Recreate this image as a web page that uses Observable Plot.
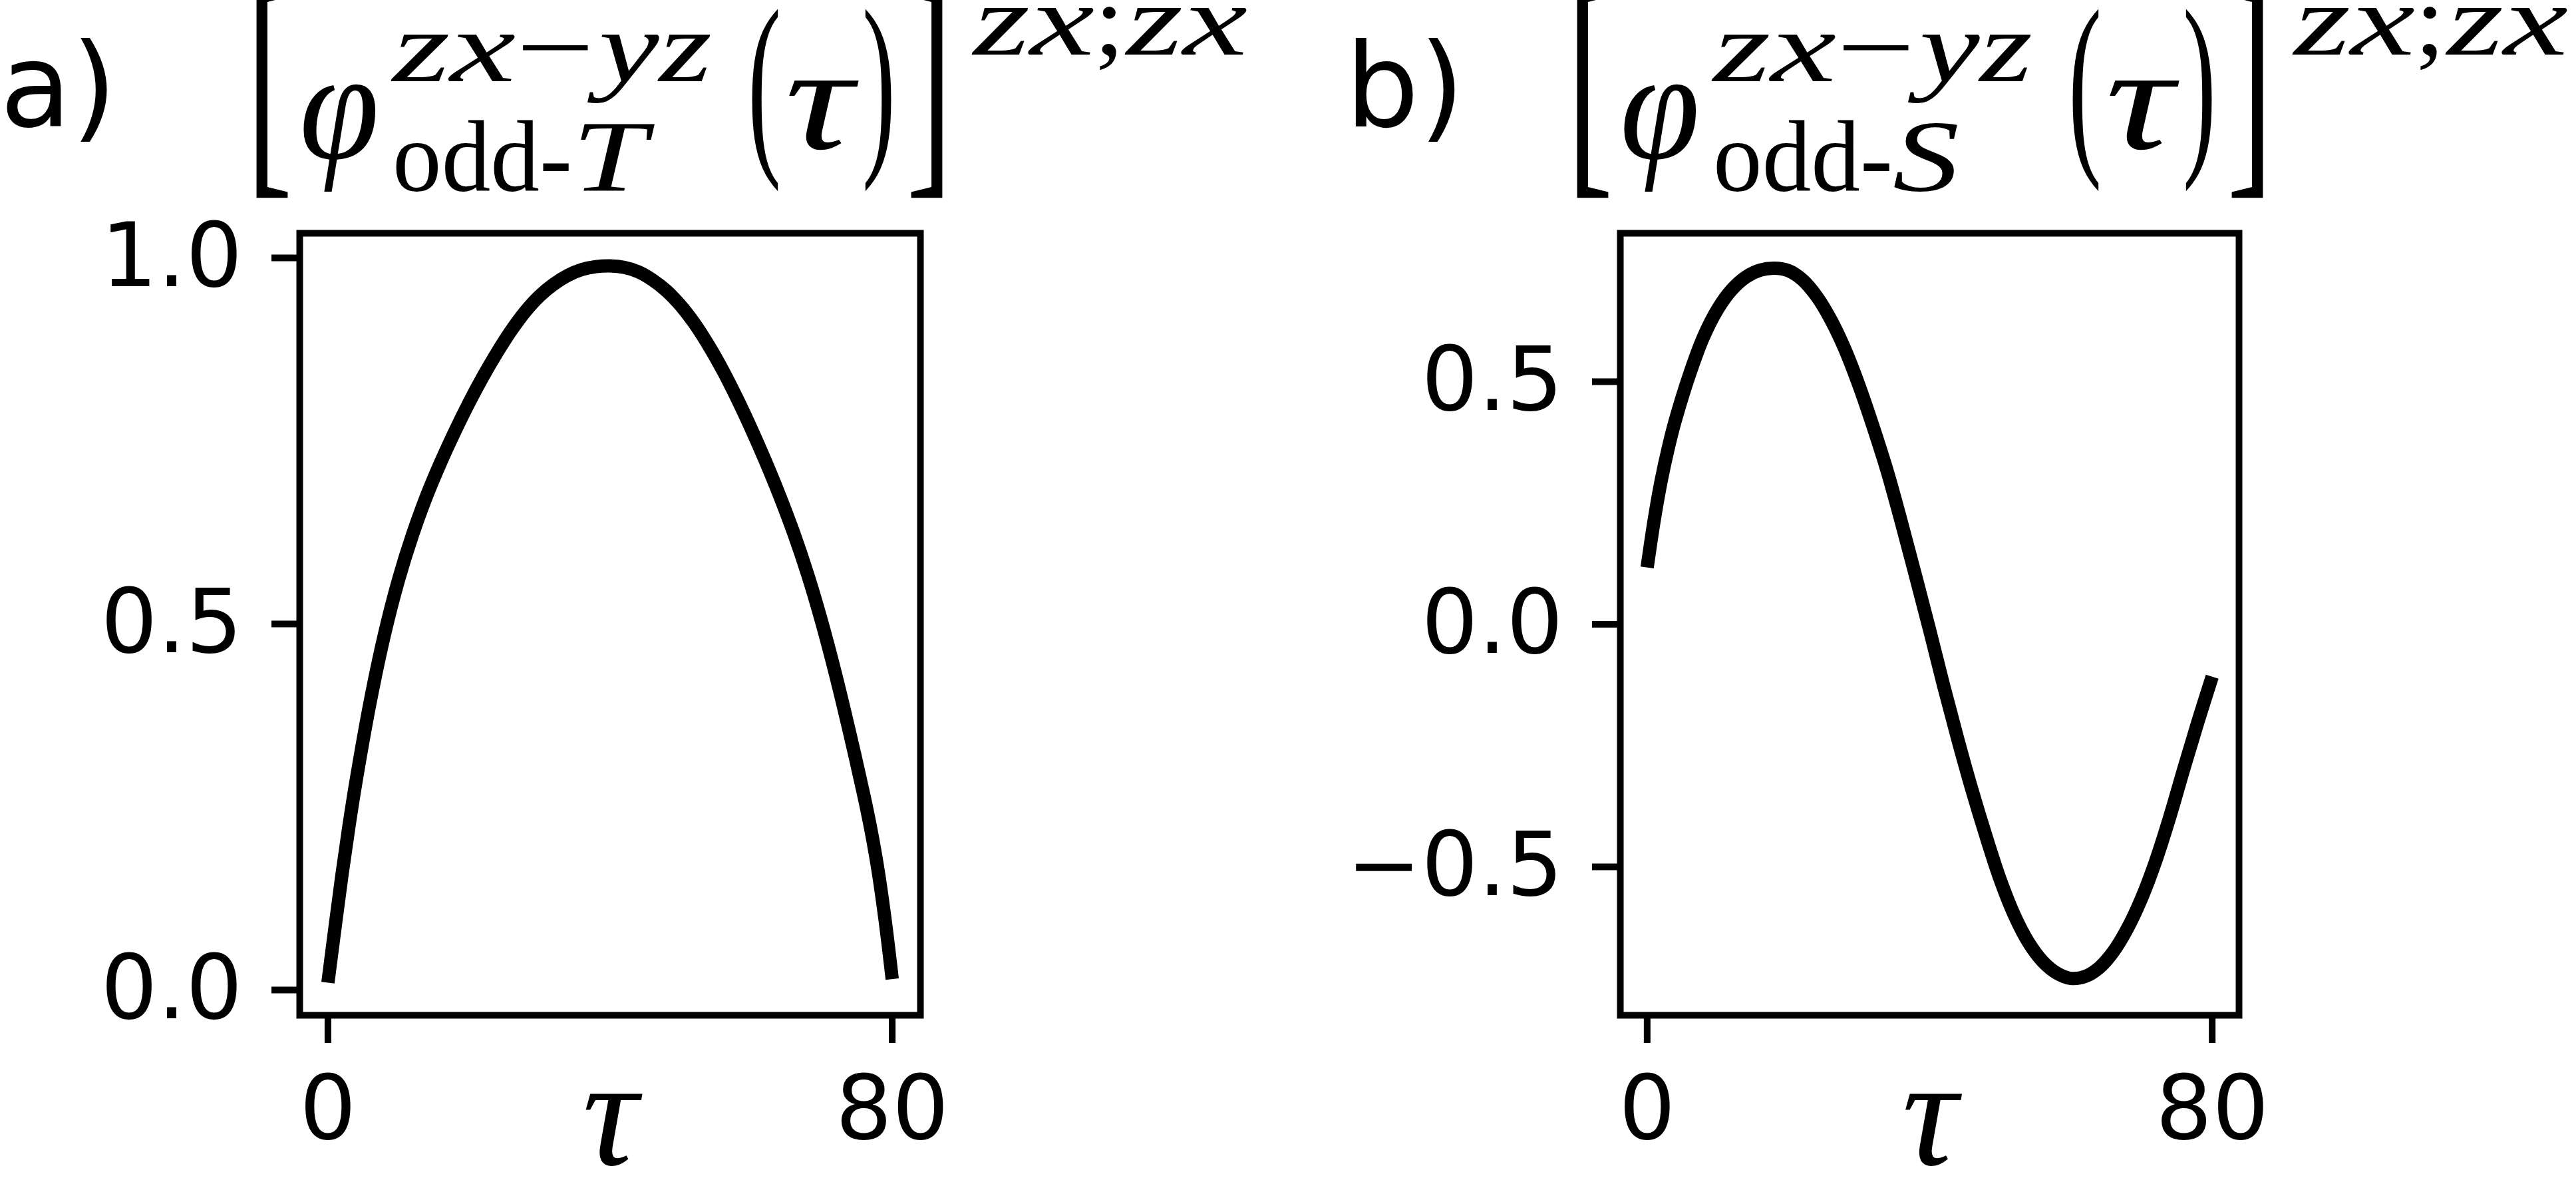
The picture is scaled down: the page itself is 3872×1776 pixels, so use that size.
<!DOCTYPE html>
<html><head><meta charset="utf-8">
<script src="https://cdn.jsdelivr.net/npm/d3@7"></script>
<script src="https://cdn.jsdelivr.net/npm/@observablehq/plot@0.6"></script>
<style>
html,body{margin:0;padding:0;background:#fff;}
#fig{position:relative;width:3872px;height:1776px;overflow:hidden;background:#fff;}
.panel{position:absolute;top:0;}
#titles{position:absolute;left:0;top:0;}
</style></head><body><div id="fig"></div>
<script>
// ---- data ----
const tauA = [0,1,2,3,4,6,8,10,12,14,16,18,20,22,24,26,28,30,32,34,36,38,40,42,44,46,48,50,52,54,56,58,60,62,64,66,68,70,72,74,76,77,78,79,80];
const phiOddT = [0.010,0.085,0.158,0.225,0.286,0.394,0.485,0.560,0.622,0.675,0.721,0.763,0.802,0.838,0.871,0.901,0.927,0.948,0.964,0.976,0.984,0.988,0.989,0.987,0.981,0.970,0.955,0.935,0.910,0.880,0.846,0.808,0.767,0.723,0.676,0.625,0.568,0.503,0.430,0.350,0.265,0.218,0.163,0.095,0.015];
const tauB = [0,1,2,3,4,6,8,10,12,14,16,18,20,22,24,26,28,30,32,34,36,38,40,42,44,46,48,50,52,54,56,58,60,62,64,66,68,70,72,74,76,78,80];
const phiOddS = [0.117,0.215,0.297,0.364,0.421,0.515,0.593,0.650,0.690,0.716,0.730,0.734,0.729,0.710,0.676,0.628,0.567,0.492,0.407,0.315,0.210,0.100,-0.012,-0.128,-0.238,-0.342,-0.438,-0.527,-0.600,-0.656,-0.695,-0.719,-0.730,-0.726,-0.708,-0.675,-0.627,-0.565,-0.488,-0.397,-0.297,-0.200,-0.108];
const xTicks = [0, 80];
const yTicksA = [0, 0.5, 1.0];
const yTicksB = [-0.5, 0, 0.5];
const panelLabels = ["a)", "b)"];
const subscriptVars = ["T", "S"];
const xLabel = "τ";

const fig = document.getElementById("fig");

function panel(tau, vals, o) {
  const data = tau.map((t, i) => ({t, v: vals[i]}));
  return Plot.plot({
    width: 1936, height: 1776,
    marginLeft: o.ml, marginRight: o.mr, marginTop: 350, marginBottom: 251,
    style: {fontFamily: "'DejaVu Sans'", fontSize: "134px", color: "black", background: "transparent", overflow: "visible"},
    x: {domain: o.xd, label: null},
    y: {domain: o.yd, label: null},
    marks: [
      Plot.axisY({ticks: o.yt, tickFormat: d3.format(".1f"), tickSize: 42, tickPadding: 44, fontSize: 134, fontFamily: "DejaVu Sans", strokeWidth: 10, stroke: "black", fill: "black", label: null}),
      Plot.axisX({ticks: xTicks, tickFormat: d3.format("d"), tickSize: 42, tickPadding: 48, fontSize: 134, fontFamily: "DejaVu Sans", strokeWidth: 10, stroke: "black", fill: "black", label: null}),
      Plot.line(data, {x: "t", y: "v", stroke: "black", strokeWidth: 20, curve: "catmull-rom", strokeLinecap: "butt"}),
      Plot.frame({stroke: "black", strokeWidth: 10}),
      Plot.text([xLabel], {text: d => d, frameAnchor: "bottom", dy: 224, lineAnchor: "bottom", fontSize: 232, fontFamily: "Liberation Serif", fontStyle: "italic", fill: "black"})
    ]
  });
}

const pa = panel(tauA, phiOddT, {ml: 450, mr: 553, xd: [-4, 84], yd: [-0.0345, 1.0336], yt: yTicksA});
const pb = panel(tauB, phiOddS, {ml: 499, mr: 507, xd: [-3.8, 83.8], yd: [-0.806, 0.806], yt: yTicksB});
const wa = document.createElement("div"); wa.className = "panel"; wa.style.left = "0px"; wa.appendChild(pa);
const wb = document.createElement("div"); wb.className = "panel"; wb.style.left = "1936px"; wb.appendChild(pb);
fig.appendChild(wa); fig.appendChild(wb);

// ---- titles (math set as text) ----
const svg = d3.select(fig).append("svg").attr("id", "titles")
  .attr("width", 3872).attr("height", 340);

function put(g, s, italic, x, y, size, len, family = "Liberation Serif") {
  const t = g.append("text").attr("x", x).attr("y", y)
    .attr("font-family", family).attr("font-size", size).attr("fill", "black")
    .attr("font-style", italic ? "italic" : "normal").text(s);
  if (len) t.attr("textLength", len).attr("lengthAdjust", "spacingAndGlyphs");
  return t;
}

function title(i, dx, ldx) {
  const g = svg.append("g");
  put(g, panelLabels[i], false, ldx, 190, 175, null, "DejaVu Sans");
  const m = g.append("g").attr("transform", `translate(${dx},0)`);
  put(m, "[", false, 370, 247, 375, 70);
  put(m, "φ", true, 450, 238, 236, 120);
  put(m, "zx", true, 590, 122, 152, 185);
  put(m, "−", false, 776, 122, 152, 118);
  put(m, "yz", true, 900, 122, 152, 170);
  put(m, "odd-", false, 590, 287, 152, 270);
  put(m, subscriptVars[i], true, 860, 287, 152, i === 0 ? 112 : 100);
  put(m, "(", false, 1124, 223, 302, 50);
  put(m, "τ", true, 1180, 223, 222, 102);
  put(m, ")", false, 1296, 223, 302, 50);
  put(m, "]", false, 1362, 247, 375, 70);
  put(m, "zx", true, 1463, 82, 152, 182);
  put(m, ";", false, 1645, 82, 152, 45);
  put(m, "zx", true, 1693, 82, 152, 182);
}
title(0, 0, 0);
title(1, 1985, 2022);
</script>
</body></html>
